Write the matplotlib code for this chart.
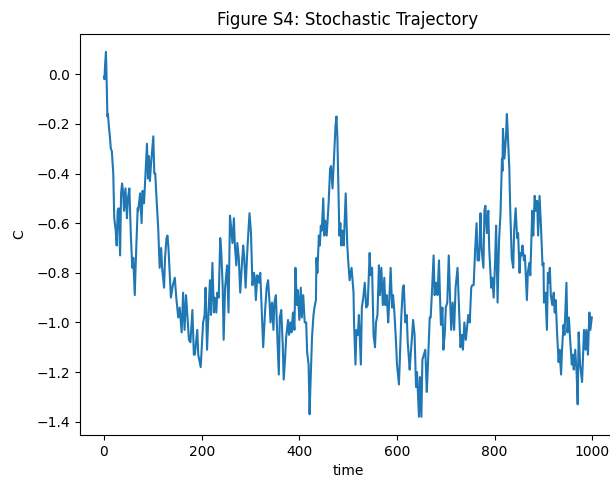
import matplotlib
matplotlib.use("Agg")
import matplotlib.pyplot as plt

time = [0, 1, 2, 4, 5, 7, 8, 10, 12, 14, 16, 19, 21, 24, 26, 28, 30, 33, 35, 37, 39, 41, 44, 47, 49,
        52, 55, 58, 60, 63, 65, 69, 70, 74, 77, 79, 82, 85, 88, 90, 92, 94, 96, 101, 103, 105, 107,
        111, 114, 117, 119, 123, 125, 128, 130, 132, 137, 141, 145, 148, 152, 155, 159, 162, 165,
        168, 170, 174, 177, 181, 184, 186, 191, 193, 198, 200, 203, 206, 208, 211, 214, 217, 219,
        222, 225, 227, 230, 232, 235, 238, 240, 243, 245, 248, 252, 255, 258, 260, 263, 266, 268,
        271, 273, 276, 279, 282, 285, 287, 290, 294, 298, 301, 304, 307, 309, 311, 314, 317, 320,
        323, 326, 330, 333, 336, 339, 341, 344, 347, 349, 352, 355, 358, 360, 363, 366, 368, 371,
        373, 377, 379, 382, 384, 387, 390, 392, 395, 397, 400, 403, 405, 408, 411, 414, 416, 419,
        421, 423, 426, 429, 431, 434, 435, 437, 440, 442, 444, 446, 449, 451, 453, 456, 460, 463,
        465, 468, 470, 474, 476, 478, 482, 484, 486, 488, 491, 495, 498, 500, 503, 507, 511, 512,
        515, 517, 520, 522, 526, 528, 531, 534, 537, 540, 544, 546, 549, 552, 555, 557, 560, 563,
        565, 568, 571, 574, 576, 579, 582, 584, 587, 590, 592, 595, 598, 600, 604, 606, 609, 612,
        614, 617, 620, 622, 626, 628, 631, 633, 636, 639, 641, 645, 647, 650, 652, 655, 658, 661,
        663, 667, 669, 672, 675, 677, 680, 683, 686, 688, 690, 693, 695, 698, 700, 703, 706, 709,
        711, 714, 717, 720, 722, 724, 727, 730, 733, 735, 738, 741, 743, 746, 749, 752, 754, 757,
        760, 763, 765, 768, 771, 773, 777, 779, 781, 784, 787, 789, 793, 795, 798, 801, 803, 806,
        809, 812, 815, 816, 817, 820, 823, 825, 827, 830, 832, 835, 838, 840, 843, 846, 848, 851,
        853, 855, 857, 860, 862, 866, 868, 871, 873, 877, 879, 882, 884, 887, 889, 892, 895, 898,
        900, 901, 904, 907, 909, 911, 913, 915, 918, 921, 923, 925, 928, 931, 933, 936, 938, 941,
        943, 947, 949, 952, 954, 958, 960, 962, 965, 968, 970, 972, 975, 979, 981, 983, 986, 988,
        991, 994, 996, 999]

C = [-0.01, -0.02, 0.03, 0.09, 0.01, -0.17, -0.16, -0.21, -0.25, -0.30, -0.31, -0.40, -0.58, -0.63,
     -0.69, -0.55, -0.54, -0.73, -0.48, -0.44, -0.47, -0.55, -0.46, -0.58, -0.50, -0.46, -0.65,
     -0.78, -0.74, -0.89, -0.76, -0.54, -0.55, -0.48, -0.60, -0.47, -0.52, -0.40, -0.28, -0.42,
     -0.33, -0.43, -0.37, -0.25, -0.40, -0.40, -0.48, -0.62, -0.78, -0.70, -0.78, -0.86, -0.74,
     -0.66, -0.65, -0.70, -0.90, -0.85, -0.82, -0.90, -0.98, -0.94, -1.04, -0.88, -1.03, -0.89,
     -0.95, -1.07, -1.08, -0.95, -1.13, -1.13, -1.03, -1.13, -1.18, -1.11, -1.00, -0.97, -0.86,
     -1.11, -0.96, -0.83, -0.97, -0.76, -0.96, -0.90, -0.96, -0.88, -0.90, -0.66, -0.71, -0.85,
     -1.07, -0.86, -0.77, -0.96, -0.57, -0.61, -0.68, -0.58, -0.69, -0.77, -0.68, -0.74, -0.88,
     -0.78, -0.69, -0.73, -0.86, -0.69, -0.56, -0.64, -0.85, -0.80, -0.82, -0.91, -0.81, -0.84,
     -0.80, -0.95, -1.10, -0.95, -0.86, -0.83, -0.92, -1.00, -0.92, -1.03, -0.92, -0.89, -1.06,
     -1.21, -0.98, -0.95, -1.09, -1.23, -1.14, -1.06, -0.99, -1.05, -1.00, -1.04, -0.96, -1.03,
     -0.78, -0.93, -0.87, -0.99, -0.86, -0.98, -0.89, -1.00, -1.00, -1.12, -1.17, -1.37, -1.24,
     -1.06, -0.97, -0.94, -0.91, -0.74, -0.80, -0.65, -0.69, -0.61, -0.63, -0.50, -0.65, -0.59,
     -0.65, -0.52, -0.38, -0.37, -0.46, -0.38, -0.21, -0.17, -0.26, -0.65, -0.60, -0.69, -0.63,
     -0.69, -0.48, -0.68, -0.75, -0.83, -0.78, -0.88, -1.00, -1.17, -1.03, -1.05, -0.97, -1.17,
     -0.94, -0.90, -0.84, -0.94, -0.93, -0.72, -0.81, -0.78, -1.05, -1.10, -1.00, -0.97, -0.77,
     -0.89, -0.78, -0.93, -0.82, -0.93, -0.89, -1.00, -0.92, -0.78, -0.94, -0.89, -0.97, -1.08,
     -1.17, -1.25, -1.14, -0.97, -0.86, -0.85, -1.00, -0.97, -1.08, -1.19, -1.13, -1.05, -0.99,
     -1.05, -1.26, -1.20, -1.38, -1.22, -1.38, -1.15, -1.13, -1.11, -1.28, -1.19, -0.98, -0.98,
     -0.86, -0.73, -0.89, -0.84, -0.89, -0.75, -0.89, -1.01, -0.94, -1.11, -1.04, -0.94, -0.92,
     -0.73, -0.92, -1.03, -0.92, -1.03, -0.86, -0.82, -0.78, -0.94, -1.10, -1.05, -1.11, -1.00,
     -1.07, -1.03, -0.97, -1.00, -0.86, -0.85, -0.85, -0.71, -0.60, -0.75, -0.75, -0.56, -0.70,
     -0.78, -0.55, -0.53, -0.64, -0.55, -0.71, -0.86, -0.82, -0.90, -0.75, -0.61, -0.92, -0.67,
     -0.56, -0.34, -0.39, -0.22, -0.34, -0.26, -0.16, -0.24, -0.38, -0.55, -0.74, -0.78, -0.63,
     -0.54, -0.66, -0.64, -0.80, -0.72, -0.73, -0.69, -0.75, -0.73, -0.91, -0.80, -0.76, -0.81,
     -0.55, -0.65, -0.49, -0.55, -0.51, -0.65, -0.49, -0.62, -0.77, -0.76, -0.92, -0.88, -1.03,
     -0.80, -0.84, -0.78, -0.89, -0.93, -0.88, -0.96, -0.91, -1.05, -1.16, -1.11, -1.21, -1.11,
     -1.01, -1.05, -0.84, -1.04, -0.98, -1.05, -1.17, -1.13, -1.19, -1.11, -1.21, -1.33, -1.04,
     -1.17, -1.24, -1.13, -1.03, -1.11, -1.03, -1.13, -0.96, -1.03, -0.98]

title = "Figure S4: Stochastic Trajectory"
xlabel = "time"
ylabel = "C"

fig = plt.figure(figsize=(6.10, 4.79), dpi=100)
ax = fig.add_axes([0.1305, 0.0919, 0.8797, 0.8378])
ax.plot(time, C, color="#1f77b4", linewidth=1.5)
ax.set_title(title)
ax.set_xlabel(xlabel)
ax.set_ylabel(ylabel, labelpad=7)
ax.set_xticks([0, 200, 400, 600, 800, 1000])
ax.set_yticks([0.0, -0.2, -0.4, -0.6, -0.8, -1.0, -1.2, -1.4])
fig.savefig("out.png", dpi=100)
